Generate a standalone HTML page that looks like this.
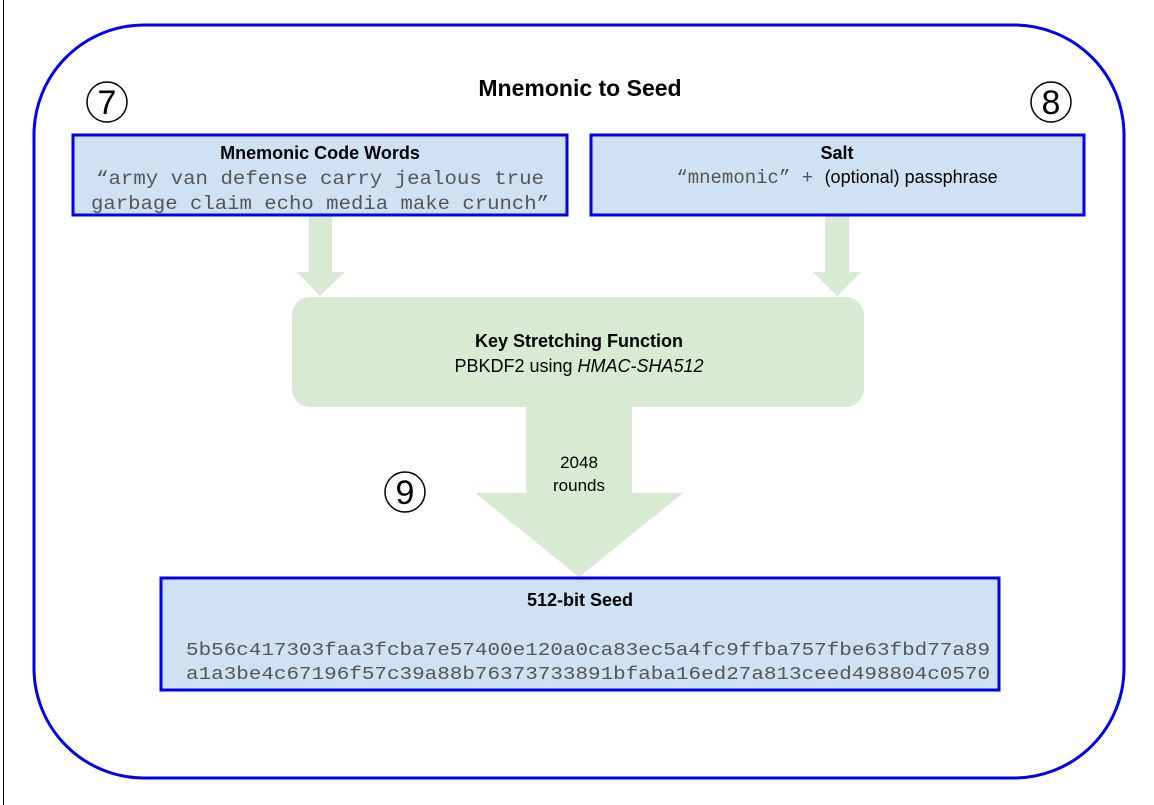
<!DOCTYPE html>
<html><head><meta charset="utf-8"><style>
html,body{margin:0;padding:0;background:#fff;}
svg{display:block;}
.s{font-family:"Liberation Sans",sans-serif;}
.m{font-family:"Liberation Mono",monospace;fill:#555;}
</style></head><body>
<svg width="1154" height="805" viewBox="0 0 1154 805" xmlns="http://www.w3.org/2000/svg">
<rect width="1154" height="805" fill="#fff"/>
<line x1="3.5" y1="0" x2="3.5" y2="805" stroke="#000" stroke-width="1"/>
<rect x="34" y="25" width="1090" height="753" rx="110" ry="110" fill="none" stroke="#0000ee" stroke-width="3"/>
<text x="580" y="96" text-anchor="middle" class="s" font-size="23" font-weight="bold">Mnemonic to Seed</text>
<g fill="none" stroke="#000" stroke-width="1.5">
<circle cx="107" cy="102" r="20"/>
<circle cx="1051" cy="102" r="20"/>
<circle cx="405" cy="492" r="20"/>
</g>
<text x="107" y="114" text-anchor="middle" class="s" font-size="34">7</text>
<text x="1051" y="114" text-anchor="middle" class="s" font-size="34">8</text>
<text x="405" y="504" text-anchor="middle" class="s" font-size="34">9</text>
<!-- arrows -->
<g fill="#d9ead3">
<polygon points="309,215 332,215 332,272 345,272 320,296 297,272 309,272"/>
<polygon points="825,215 849,215 849,272 861,272 837,296 813,272 825,272"/>
<rect x="292" y="297" width="572" height="110" rx="18" ry="18"/>
<polygon points="526,400 632,400 632,493 683,493 579,577 475,493 526,493"/>
</g>
<!-- boxes -->
<rect x="73" y="135" width="494" height="80" fill="#cfe2f3" stroke="#0000ee" stroke-width="3"/>
<rect x="591" y="135" width="493" height="80" fill="#cfe2f3" stroke="#0000ee" stroke-width="3"/>
<rect x="161" y="578" width="838" height="112" fill="#cfe2f3" stroke="#0000ee" stroke-width="3"/>
<text x="320" y="159" text-anchor="middle" class="s" font-size="18" font-weight="bold">Mnemonic Code Words</text>
<text x="320" y="184" text-anchor="middle" class="m" font-size="19" textLength="448" lengthAdjust="spacingAndGlyphs">“army van defense carry jealous true</text>
<text x="320" y="209" text-anchor="middle" class="m" font-size="19" textLength="458" lengthAdjust="spacingAndGlyphs">garbage claim echo media make crunch”</text>
<text x="837" y="159" text-anchor="middle" class="s" font-size="18" font-weight="bold">Salt</text>
<text x="837" y="183" text-anchor="middle" font-size="18"><tspan class="m" font-size="19">“mnemonic” + </tspan><tspan class="s" fill="#000">(optional) passphrase</tspan></text>
<text x="579" y="347" text-anchor="middle" class="s" font-size="18" font-weight="bold">Key Stretching Function</text>
<text x="579" y="372" text-anchor="middle" class="s" font-size="18">PBKDF2 using <tspan font-style="italic">HMAC-SHA512</tspan></text>
<text x="579" y="468" text-anchor="middle" class="s" font-size="17">2048</text>
<text x="579" y="491" text-anchor="middle" class="s" font-size="17">rounds</text>
<text x="580" y="606" text-anchor="middle" class="s" font-size="18" font-weight="bold">512-bit Seed</text>
<text x="588" y="655" text-anchor="middle" class="m" font-size="18" textLength="804" lengthAdjust="spacingAndGlyphs">5b56c417303faa3fcba7e57400e120a0ca83ec5a4fc9ffba757fbe63fbd77a89</text>
<text x="588" y="679" text-anchor="middle" class="m" font-size="18" textLength="804" lengthAdjust="spacingAndGlyphs">a1a3be4c67196f57c39a88b76373733891bfaba16ed27a813ceed498804c0570</text>
</svg>
</body></html>
